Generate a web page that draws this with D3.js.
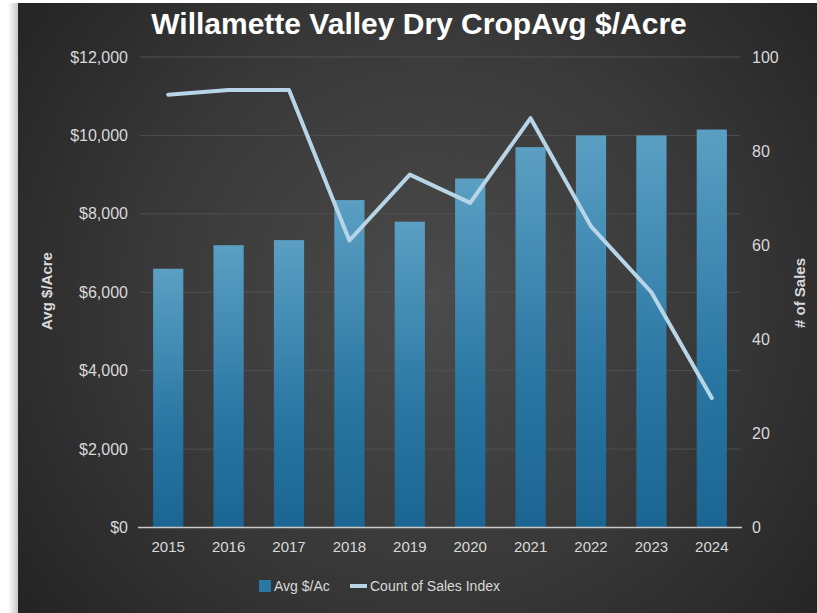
<!DOCTYPE html>
<html>
<head>
<meta charset="utf-8">
<script src="https://cdn.jsdelivr.net/npm/d3@7"></script>
<style>
  html, body { margin: 0; padding: 0; background: #ffffff; }
  svg { display: block; }
</style>
</head>
<body>
<svg id="chart" width="817" height="613"></svg>
<script>
// Willamette Valley dry cropland: average $/acre (bars) and count-of-sales index (line)
const years = ["2015", "2016", "2017", "2018", "2019", "2020", "2021", "2022", "2023", "2024"];
const avgPerAcre = [6600, 7200, 7330, 8350, 7800, 8900, 9700, 10000, 10000, 10150];
const salesIndex = [92, 93, 93, 61, 75, 69, 87, 64, 50, 27.5];
const leftTicks = [0, 2000, 4000, 6000, 8000, 10000, 12000];
const rightTicks = [0, 20, 40, 60, 80, 100];
const titleText = "Willamette Valley Dry CropAvg $/Acre";
const leftTitle = "Avg $/Acre";
const rightTitle = "# of Sales";
const legendLabels = ["Avg $/Ac", "Count of Sales Index"];

const W = 817, H = 613;
const font = "'Liberation Sans', Arial, sans-serif";
const plot = { left: 138, right: 742, top: 57, bottom: 527.5 };

const svg = d3.select("#chart");
const defs = svg.append("defs");

// panel background: dark radial glow
const bg = defs.append("radialGradient").attr("id", "panelGlow")
  .attr("gradientUnits", "userSpaceOnUse")
  .attr("cx", 430).attr("cy", 300).attr("r", 520);
bg.append("stop").attr("offset", "0%").attr("stop-color", "#4b4b4b");
bg.append("stop").attr("offset", "55%").attr("stop-color", "#383838");
bg.append("stop").attr("offset", "100%").attr("stop-color", "#232323");

// left-edge shadow of the panel
const sh = defs.append("linearGradient").attr("id", "edgeShadow")
  .attr("x1", 0).attr("x2", 1).attr("y1", 0).attr("y2", 0);
sh.append("stop").attr("offset", "0%").attr("stop-color", "#000").attr("stop-opacity", 0);
sh.append("stop").attr("offset", "100%").attr("stop-color", "#000").attr("stop-opacity", 0.22);

// bar fill: lighter steel blue at the top, deeper blue at the base
const barGrad = defs.append("linearGradient").attr("id", "barFill")
  .attr("x1", 0).attr("x2", 0).attr("y1", 0).attr("y2", 1);
barGrad.append("stop").attr("offset", "0%").attr("stop-color", "#5b9fc3");
barGrad.append("stop").attr("offset", "60%").attr("stop-color", "#2a77a3");
barGrad.append("stop").attr("offset", "100%").attr("stop-color", "#1b6592");

svg.append("rect").attr("x", 0).attr("y", 0).attr("width", W).attr("height", H).attr("fill", "#ffffff");
svg.append("rect").attr("x", 8).attr("y", 3).attr("width", 10).attr("height", H - 3).attr("fill", "url(#edgeShadow)");
svg.append("rect").attr("x", 18).attr("y", 3).attr("width", W - 18).attr("height", H - 3).attr("fill", "url(#panelGlow)");

// scales
const x = d3.scaleBand().domain(years).range([plot.left, plot.right]).paddingInner(0.5).paddingOuter(0.25);
const yL = d3.scaleLinear().domain([0, 12000]).range([plot.bottom, plot.top]);
const yR = d3.scaleLinear().domain([0, 100]).range([plot.bottom, plot.top]);

// gridlines
svg.append("g").selectAll("line").data(leftTicks.filter(d => d > 0)).join("line")
  .attr("x1", plot.left + 2).attr("x2", plot.right - 2)
  .attr("y1", d => yL(d)).attr("y2", d => yL(d))
  .attr("stroke", "#505050").attr("stroke-width", 1);

// bars
svg.append("g").selectAll("rect").data(years).join("rect")
  .attr("x", d => x(d))
  .attr("y", (d, i) => yL(avgPerAcre[i]))
  .attr("width", x.bandwidth())
  .attr("height", (d, i) => yL(0) - yL(avgPerAcre[i]))
  .attr("fill", "url(#barFill)");

// category baseline
svg.append("line")
  .attr("x1", plot.left).attr("x2", plot.right)
  .attr("y1", plot.bottom).attr("y2", plot.bottom)
  .attr("stroke", "#c9c9c9").attr("stroke-width", 1.5);

// count-of-sales line
const line = d3.line()
  .x((d, i) => x(years[i]) + x.bandwidth() / 2)
  .y(d => yR(d));
svg.append("path").datum(salesIndex)
  .attr("d", line)
  .attr("fill", "none")
  .attr("stroke", "#b7d5e6")
  .attr("stroke-width", 4)
  .attr("stroke-linejoin", "round")
  .attr("stroke-linecap", "round");

// axes
const axisLeft = svg.append("g").attr("transform", `translate(${plot.left},0)`)
  .call(d3.axisLeft(yL).tickValues(leftTicks).tickSize(0).tickPadding(10)
    .tickFormat(d => "$" + d3.format(",")(d)));
const axisRight = svg.append("g").attr("transform", `translate(${plot.right},0)`)
  .call(d3.axisRight(yR).tickValues(rightTicks).tickSize(0).tickPadding(10));
const axisBottom = svg.append("g").attr("transform", `translate(0,${plot.bottom})`)
  .call(d3.axisBottom(x).tickSize(0).tickPadding(14));

[axisLeft, axisRight, axisBottom].forEach(g => {
  g.select(".domain").remove();
  g.selectAll("text").attr("fill", "#d9d9d9").style("font-family", font);
});
axisLeft.selectAll("text").style("font-size", "16px");
axisRight.selectAll("text").style("font-size", "16px");
axisBottom.selectAll("text").style("font-size", "15px");

// title
svg.append("text")
  .attr("x", 419).attr("y", 34)
  .attr("text-anchor", "middle")
  .attr("fill", "#ffffff")
  .style("font-family", font).style("font-size", "30px").style("font-weight", "bold")
  .text(titleText);

// axis titles
svg.append("text")
  .attr("transform", "translate(52,291) rotate(-90)")
  .attr("text-anchor", "middle")
  .attr("fill", "#d9d9d9")
  .style("font-family", font).style("font-size", "15px").style("font-weight", "bold")
  .text(leftTitle);
svg.append("text")
  .attr("transform", "translate(805,293) rotate(-90)")
  .attr("text-anchor", "middle")
  .attr("fill", "#d9d9d9")
  .style("font-family", font).style("font-size", "15px").style("font-weight", "bold")
  .text(rightTitle);

// legend
const lg = svg.append("g").style("font-family", font).style("font-size", "14px");
lg.append("rect").attr("x", 259).attr("y", 580).attr("width", 12).attr("height", 12).attr("fill", "#2a77a3");
lg.append("text").attr("x", 274).attr("y", 591).attr("fill", "#d9d9d9").text(legendLabels[0]);
lg.append("line").attr("x1", 350).attr("x2", 367).attr("y1", 586).attr("y2", 586)
  .attr("stroke", "#b7d5e6").attr("stroke-width", 4);
lg.append("text").attr("x", 370).attr("y", 591).attr("fill", "#d9d9d9").text(legendLabels[1]);
</script>
</body>
</html>
